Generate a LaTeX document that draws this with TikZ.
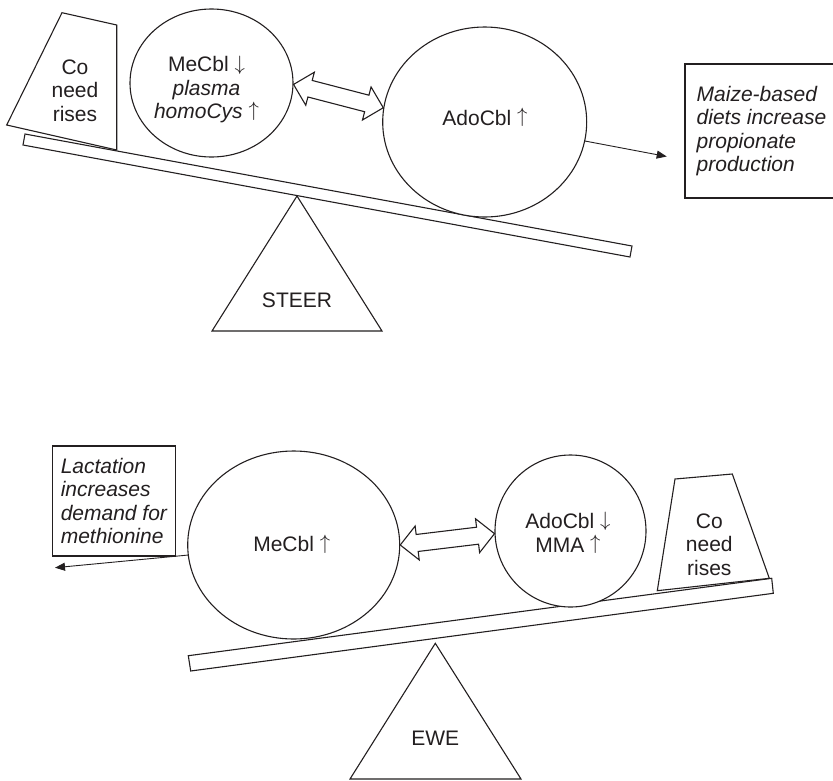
\documentclass[tikz,border=0pt]{standalone}
\usepackage{fontspec}
\setmainfont{Liberation Sans}
\usetikzlibrary{shapes.geometric,shapes.arrows,arrows.meta,calc}
\definecolor{ink}{RGB}{35,31,32}
\newcommand{\myup}{\raisebox{0.12em}{$\uparrow$}}
\newcommand{\mydn}{\raisebox{0.08em}{$\downarrow$}}
\begin{document}
\begin{tikzpicture}[x=1pt,y=-1pt,line width=1.1pt,color=ink,
  ball/.style={ellipse,draw,fill=white,inner sep=0pt},
  txt/.style={font=\fontsize{21}{23.5}\selectfont,align=center,inner sep=0pt,text=ink},
  notebox/.style={txt,align=left,draw,fill=white},
  fatarrow/.style={double arrow,draw,fill=white,inner sep=0pt,inner ysep=8pt,
    double arrow head extend=8.5pt},
  thinarrow/.style={-{Triangle[length=10pt,width=8pt]},line width=0.9pt},
  solid/.style={draw,fill=white,line join=miter}]
\useasboundingbox (0,0) rectangle (833,780);
\clip (0,0) rectangle (833,780);

% ---------------- STEER ----------------
\draw[solid] (25,134) -- (632,246) -- (630,257) -- (23,145) -- cycle;
\draw[solid] (297,196) -- (382,331) -- (212,331) -- cycle;
\node[txt] (steer) at (297,300) {STEER};
\draw[solid] (62,12.7) -- (116.7,25) -- (116.7,150) -- (6.7,125) -- cycle;
\node[txt] (co1) at (75,90.5) {Co\\need\\rises};

\node[ball,minimum width=163pt,minimum height=148pt] (me1) at (211.5,83) {};
\node[txt] (tme1) at (206.5,89.5) {MeCbl \mydn\\\textit{plasma}\\\textit{homoCys} \myup};
\node[ball,minimum width=204pt,minimum height=190pt] (ado1) at (484.7,122) {};
\node[txt] (tado1) at (485,117.5) {AdoCbl \myup};

\path let \p1=(me1.-1), \p2=(ado1.172),
  \n1={atan2(\y2-\y1,\x2-\x1)}, \n2={veclen(\x2-\x1,\y2-\y1)} in
  node[fatarrow,rotate=\n1,minimum height=\n2] (dbl1) at ($(\p1)!0.5!(\p2)$) {};

\node[notebox,minimum width=153pt,minimum height=134pt] (maize) at (761.5,131)
  {\itshape Maize-based\\\itshape diets increase\\\itshape propionate\\\itshape production};
\coordinate (p1) at (666.7,156.5);
\draw[thinarrow] (ado1) -- (p1);

% ---------------- EWE ----------------
\draw[solid] (188.3,655.7) -- (771.7,578.3) -- (773.3,593.3) -- (190.7,671) -- cycle;
\draw[solid] (435.3,643.3) -- (521,779) -- (350,779) -- cycle;
\node[txt] (ewe) at (435.3,738) {EWE};
\draw[solid] (675,479) -- (732.3,474) -- (769.3,578.3) -- (657.3,590.7) -- cycle;
\node[txt] (co2) at (709.3,544.5) {Co\\need\\rises};

\node[ball,minimum width=212pt,minimum height=188pt] (me2) at (293.7,545) {};
\node[txt] (tme2) at (291.7,544) {MeCbl \myup};
\node[ball,minimum width=151pt,minimum height=152pt] (ado2) at (570.5,531) {};
\node[txt] (tado2) at (568,533) {AdoCbl \mydn\\MMA \myup};

\path let \p1=(me2.0), \p2=(ado2.182),
  \n1={atan2(\y2-\y1,\x2-\x1)}, \n2={veclen(\x2-\x1,\y2-\y1)} in
  node[fatarrow,rotate=\n1,minimum height=\n2] (dbl2) at ($(\p1)!0.5!(\p2)$) {};

\node[notebox,minimum width=123.7pt,minimum height=110pt] (lact) at (113.9,501)
  {\itshape Lactation\\\itshape increases\\\itshape demand for\\\itshape methionine};
\coordinate (p2) at (55,567.7);
\draw[thinarrow] (me2) -- (p2);
\end{tikzpicture}
\end{document}
